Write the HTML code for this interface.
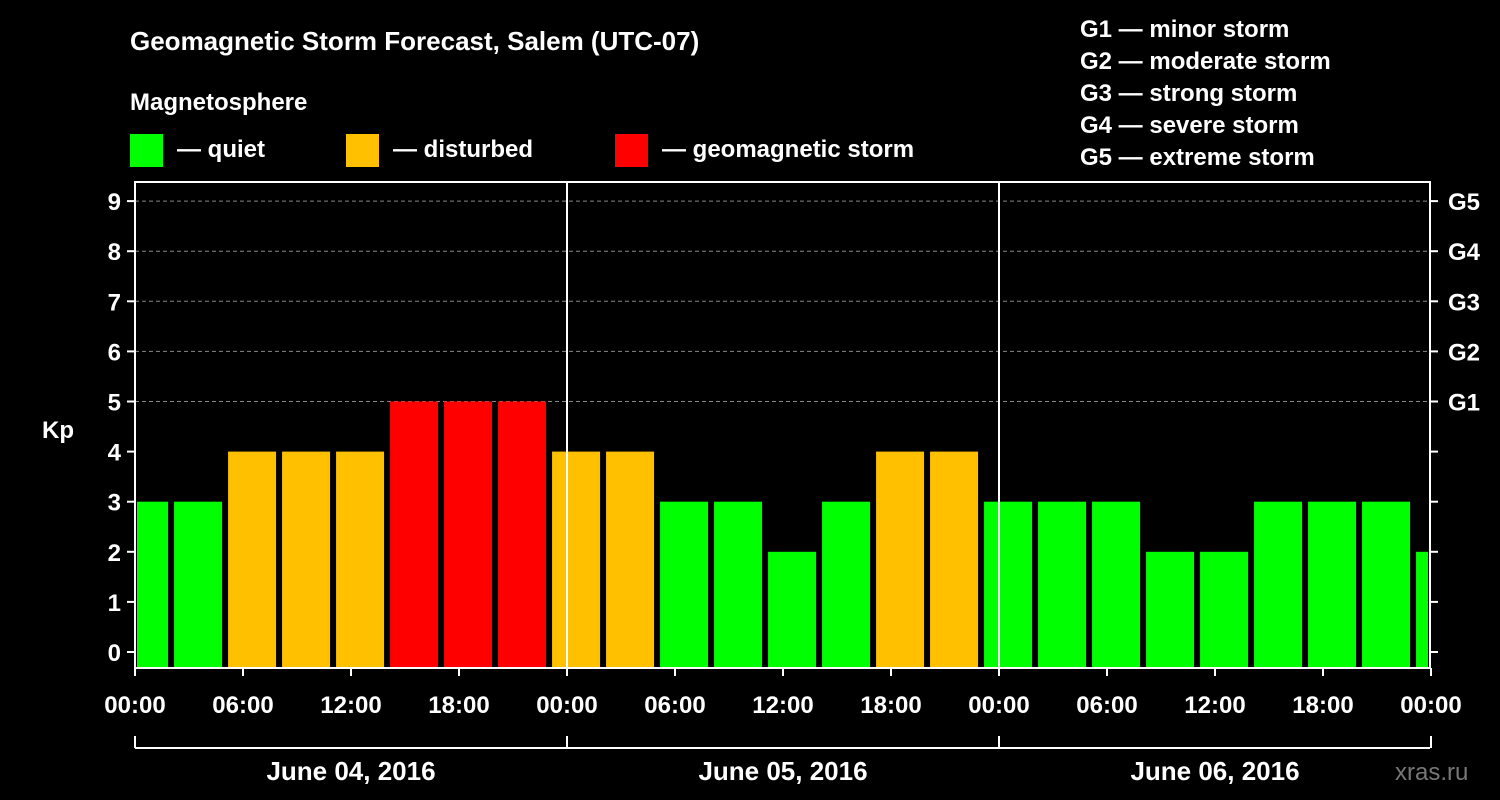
<!DOCTYPE html>
<html><head><meta charset="utf-8"><style>
body{margin:0;background:#000;}
svg{display:block;font-family:"Liberation Sans",Arial,sans-serif;font-weight:bold;}
</style></head><body>
<svg id="chart" width="1500" height="800" viewBox="0 0 1500 800">
<rect width="1500" height="800" fill="#000"/>
<text x="130" y="50" fill="#fff" font-size="26">Geomagnetic Storm Forecast, Salem (UTC-07)</text>
<text x="130" y="110" fill="#fff" font-size="24">Magnetosphere</text>
<g><rect x="130" y="134" width="33" height="33" fill="#00ff00"/><text x="177" y="157" fill="#fff" font-size="24">— quiet</text></g>
<g><rect x="346" y="134" width="33" height="33" fill="#ffc000"/><text x="393" y="157" fill="#fff" font-size="24">— disturbed</text></g>
<g><rect x="615" y="134" width="33" height="33" fill="#ff0000"/><text x="662" y="157" fill="#fff" font-size="24">— geomagnetic storm</text></g>
<g fill="#fff" font-size="24">
<text x="1080" y="37">G1 — minor storm</text>
<text x="1080" y="69">G2 — moderate storm</text>
<text x="1080" y="101">G3 — strong storm</text>
<text x="1080" y="133">G4 — severe storm</text>
<text x="1080" y="165">G5 — extreme storm</text>
</g>
<g id="plot"></g>
<text x="1395" y="780" fill="#777" font-size="24" font-weight="normal">xras.ru</text>
</svg>
<script>
const kpValues=[3,3,4,4,4,5,5,5,4,4,3,3,2,3,4,4,3,3,3,2,2,3,3,3,2];
const yTicks=[0,1,2,3,4,5,6,7,8,9];
const gLabels=["G1","G2","G3","G4","G5"];
const xTickLabels=["00:00","06:00","12:00","18:00","00:00","06:00","12:00","18:00","00:00","06:00","12:00","18:00","00:00"];
const dayLabels=["June 04, 2016","June 05, 2016","June 06, 2016"];
const L=135,R=1430,T=182,B=668;
const y=v=>652-v*50.1;
const xh=h=>L+h*18; // hours from start
const ns="http://www.w3.org/2000/svg";
const g=document.getElementById('plot');
function mk(t,a,txt){const e=document.createElementNS(ns,t);for(const k in a)e.setAttribute(k,a[k]);if(txt!==undefined)e.textContent=txt;g.appendChild(e);return e;}
// grid
for(let v=5;v<=9;v++){const e=mk('line',{x1:L,x2:R,y1:y(v),y2:y(v),stroke:'#888','stroke-dasharray':'4,3','stroke-width':1});

}
// bars
kpValues.forEach((v,i)=>{
 let x0=xh(i*3-0.83),x1=x0+48;
 x0=Math.max(x0,L+2);x1=Math.min(x1,R-2);
 const c=v>=5?'#ff0000':v>=4?'#ffc000':'#00ff00';
 const e=mk('rect',{x:x0,y:y(v),width:x1-x0,height:B-y(v),fill:c});
 
 
});
// day separators
[1,2].forEach(d=>{const e=mk('line',{x1:xh(d*24),x2:xh(d*24),y1:T,y2:B,stroke:'#fff','stroke-width':2});

});
const fr=mk('rect',{x:L,y:T,width:R-L,height:B-T,fill:'none',stroke:'#fff','stroke-width':2});


// y ticks
yTicks.forEach(v=>{
 mk('line',{x1:L-8,x2:L,y1:y(v),y2:y(v),stroke:'#fff','stroke-width':2});
 mk('line',{x1:R,x2:R+8,y1:y(v),y2:y(v),stroke:'#fff','stroke-width':2});
 const t=mk('text',{x:L-14,y:y(v)+9,fill:'#fff','font-size':24,'text-anchor':'end'},String(v));
 
 
});
gLabels.forEach((s,i)=>{const t=mk('text',{x:R+18,y:y(5+i)+9,fill:'#fff','font-size':24},s);

});
const yt=mk('text',{x:42,y:438,fill:'#fff','font-size':24},'Kp');


// x ticks
xTickLabels.forEach((s,i)=>{
 const x=xh(i*6);
 mk('line',{x1:x,x2:x,y1:B,y2:B+8,stroke:'#fff','stroke-width':2});
 const t=mk('text',{x:x,y:713,fill:'#fff','font-size':24,'text-anchor':'middle'},s);
 
 
});
mk('line',{x1:L,x2:R,y1:748,y2:748,stroke:'#fff','stroke-width':2});
for(let d=0;d<=3;d++)mk('line',{x1:xh(d*24),x2:xh(d*24),y1:736,y2:748,stroke:'#fff','stroke-width':2});
dayLabels.forEach((s,i)=>{const t=mk('text',{x:xh(i*24+12),y:780,fill:'#fff','font-size':26,'text-anchor':'middle'},s);

});
</script>
</body></html>
